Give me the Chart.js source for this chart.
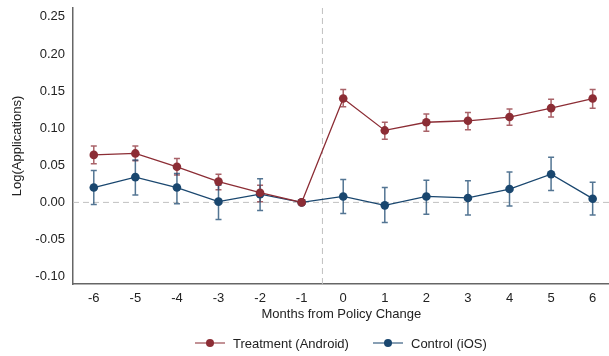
<!DOCTYPE html>
<html lang="en">
<head>
  <meta charset="UTF-8">
  <title>Event study: log applications</title>
  <script src="https://cdn.jsdelivr.net/npm/chart.js"></script>
  <style>
    html, body { margin: 0; padding: 0; background: #fff; overflow: hidden; }
    /* a little wider than the window so the x axis runs to the right edge */
    #wrap { width: 614px; height: 356px; position: relative; }
  </style>
</head>
<body>
  <div id="wrap"><canvas id="eventChart"></canvas></div>

  <script>
    const months = [-6, -5, -4, -3, -2, -1, 0, 1, 2, 3, 4, 5, 6];

    const treatment = [0.064, 0.066, 0.048, 0.028, 0.013, 0, 0.140, 0.097, 0.108, 0.110, 0.115, 0.127, 0.140];
    const treatmentLow = [0.052, 0.056, 0.037, 0.017, 0.001, 0, 0.129, 0.085, 0.096, 0.098, 0.104, 0.115, 0.127];
    const treatmentHigh = [0.076, 0.076, 0.059, 0.038, 0.023, 0, 0.152, 0.108, 0.119, 0.121, 0.126, 0.139, 0.152];

    const control = [0.020, 0.034, 0.020, 0.001, 0.011, 0, 0.008, -0.004, 0.008, 0.006, 0.018, 0.038, 0.005];
    const controlLow = [-0.003, 0.010, -0.002, -0.023, -0.011, 0, -0.015, -0.027, -0.016, -0.017, -0.005, 0.016, -0.017];
    const controlHigh = [0.043, 0.057, 0.039, 0.023, 0.032, 0, 0.031, 0.020, 0.030, 0.029, 0.041, 0.061, 0.027];

    const yTicks = [-0.10, -0.05, 0.00, 0.05, 0.10, 0.15, 0.20, 0.25];

    const RED = '#8c2d35';
    const BLUE = '#1a476f';
    const FONT = 'Liberation Sans, Arial, Helvetica, sans-serif';

    function points(vals) {
      return months.map((m, i) => ({ x: m, y: vals[i] }));
    }

    // dashed reference lines + error bars, drawn under the markers
    const extras = {
      id: 'extras',
      beforeDatasetsDraw(chart) {
        const { ctx, chartArea, scales } = chart;
        const xs = scales.x, ys = scales.y;
        ctx.save();
        ctx.strokeStyle = '#c0c0c0';
        ctx.lineWidth = 1;
        ctx.setLineDash([6, 4]);
        const y0 = ys.getPixelForValue(0);
        ctx.beginPath();
        ctx.moveTo(chartArea.left, y0);
        ctx.lineTo(chartArea.right, y0);
        const xv = xs.getPixelForValue(-0.5);
        ctx.moveTo(xv, chartArea.top);
        ctx.lineTo(xv, chartArea.bottom);
        ctx.stroke();
        ctx.setLineDash([]);

        const bars = [
          [treatmentLow, treatmentHigh, 'rgba(140,45,53,0.75)'],
          [controlLow, controlHigh, 'rgba(26,71,111,0.75)']
        ];
        bars.forEach(([lo, hi, col]) => {
          ctx.strokeStyle = col;
          ctx.lineWidth = 1.5;
          months.forEach((m, i) => {
            if (lo[i] === hi[i]) return;
            const x = xs.getPixelForValue(m);
            const a = ys.getPixelForValue(lo[i]);
            const b = ys.getPixelForValue(hi[i]);
            ctx.beginPath();
            ctx.moveTo(x, a); ctx.lineTo(x, b);
            ctx.moveTo(x - 3, a); ctx.lineTo(x + 3, a);
            ctx.moveTo(x - 3, b); ctx.lineTo(x + 3, b);
            ctx.stroke();
          });
        });
        ctx.restore();
      },
      afterDraw(chart) {
        // legend with line + marker symbols
        const { ctx } = chart;
        const items = [
          [chart.data.datasets[0].label, RED, 195],
          [chart.data.datasets[1].label, BLUE, 373]
        ];
        const y = 343;
        ctx.save();
        ctx.font = '13px ' + FONT;
        ctx.textBaseline = 'middle';
        items.forEach(([label, col, x]) => {
          ctx.strokeStyle = col;
          ctx.globalAlpha = 0.8;
          ctx.lineWidth = 1.3;
          ctx.beginPath();
          ctx.moveTo(x, y); ctx.lineTo(x + 30, y);
          ctx.stroke();
          ctx.globalAlpha = 1;
          ctx.fillStyle = col;
          ctx.beginPath();
          ctx.arc(x + 15, y, 4, 0, Math.PI * 2);
          ctx.fill();
          ctx.fillStyle = '#222';
          ctx.fillText(label, x + 38, y + 1);
        });
        ctx.restore();
      }
    };

    new Chart(document.getElementById('eventChart'), {
      type: 'line',
      data: {
        datasets: [
          {
            label: 'Treatment (Android)',
            data: points(treatment),
            borderColor: RED,
            backgroundColor: RED,
            borderWidth: 1.3,
            pointRadius: 4.3,
            pointBorderWidth: 0,
            tension: 0
          },
          {
            label: 'Control (iOS)',
            data: points(control),
            borderColor: BLUE,
            backgroundColor: BLUE,
            borderWidth: 1.3,
            pointRadius: 4.3,
            pointBorderWidth: 0,
            tension: 0
          }
        ]
      },
      options: {
        responsive: true,
        maintainAspectRatio: false,
        animation: false,
        layout: { padding: { top: 8, left: 6, right: 0, bottom: 30 } },
        plugins: { legend: { display: false }, tooltip: { enabled: false } },
        scales: {
          x: {
            type: 'linear',
            min: -6.5,
            max: 6.41,
            afterBuildTicks: (s) => { s.ticks = months.map(v => ({ value: v })); },
            afterFit: (s) => { s.height = 42; },
            grid: { display: false, drawOnChartArea: false, drawTicks: true, tickLength: 5, tickColor: '#555' },
            border: { color: '#666', width: 1.5 },
            ticks: { color: '#222', font: { family: FONT, size: 13 }, padding: 2, callback: v => String(v) },
            title: { display: true, text: 'Months from Policy Change', color: '#222', font: { family: FONT, size: 13 }, padding: { top: 4, bottom: 4 } }
          },
          y: {
            min: -0.11,
            max: 0.262,
            afterBuildTicks: (s) => { s.ticks = yTicks.map(v => ({ value: v })); },
            afterFit: (s) => { s.width = 67; s.paddingTop = 0; s.paddingBottom = 0; },
            grid: { display: false, drawOnChartArea: false, drawTicks: true, tickLength: 5, tickColor: '#555' },
            border: { color: '#666', width: 1.5 },
            ticks: { color: '#222', font: { family: FONT, size: 13 }, padding: 3, callback: v => v.toFixed(2) },
            title: { display: true, text: 'Log(Applications)', color: '#222', font: { family: FONT, size: 13 }, padding: { top: 4, bottom: 4 } }
          }
        }
      },
      plugins: [extras]
    });
  </script>
</body>
</html>
